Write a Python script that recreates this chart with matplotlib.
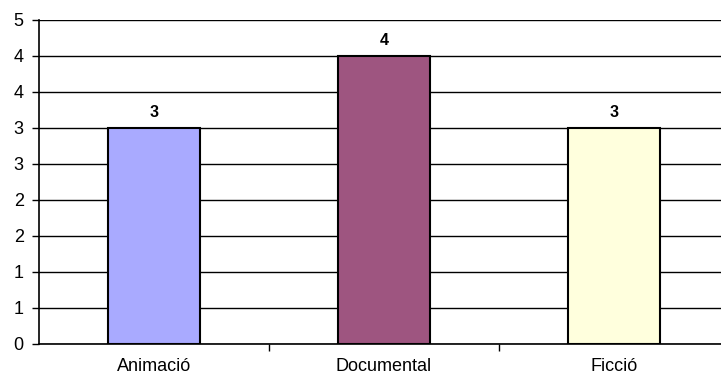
import math
import matplotlib
matplotlib.use("Agg")
import matplotlib.pyplot as plt
from matplotlib.ticker import FuncFormatter, FixedLocator

categories = ["Animació", "Documental", "Ficció"]
values = [3, 4, 3]
colors = ["#A9AAFF", "#9E5580", "#FFFFDD"]
yticks = [0, 0.5, 1, 1.5, 2, 2.5, 3, 3.5, 4, 4.5]

plt.rcParams['font.family'] = ['Liberation Sans', 'DejaVu Sans']

fig = plt.figure(figsize=(7.21, 3.76), dpi=100)
ax = fig.add_axes([39/721, 32/376, 690/721, 324/376])

x = list(range(len(categories)))
ax.bar(x, values, width=0.40, color=colors, edgecolor="black", linewidth=1.5, zorder=3)
for xi, v in zip(x, values):
    ax.annotate(f"{v}", (xi, v), xytext=(0, 6), textcoords="offset points",
                ha="center", va="bottom", fontsize=11.5, fontweight="bold")

ax.set_xlim(-0.5, 2.5)
ax.set_ylim(0, 4.5)
ax.set_yticks(yticks)
ax.yaxis.set_major_formatter(FuncFormatter(lambda v, p: f"{int(math.floor(v + 0.5))}"))
ax.grid(axis="y", color="black", linewidth=1.0, zorder=0)
ax.set_xticks(x)
ax.set_xticklabels(categories)
ax.xaxis.set_minor_locator(FixedLocator([0.5, 1.5]))
ax.tick_params(axis="x", which="major", length=0, labelsize=13, pad=10)
ax.tick_params(axis="x", which="minor", length=5, width=1)
ax.tick_params(axis="y", length=5, width=1, labelsize=13, pad=6)

for s in ["top", "right"]:
    ax.spines[s].set_visible(False)
for s in ["left", "bottom"]:
    ax.spines[s].set_linewidth(1.2)
    ax.spines[s].set_zorder(4)

fig.savefig("out.png", dpi=100)
